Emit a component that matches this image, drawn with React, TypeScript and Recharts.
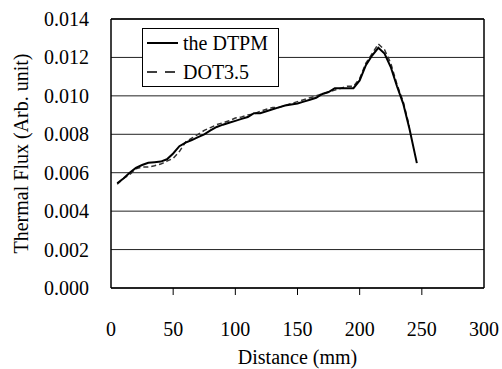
import React from 'react';
import { LineChart, Line, XAxis, YAxis, CartesianGrid, ReferenceLine } from 'recharts';

const xTicks = [0, 50, 100, 150, 200, 250, 300];
const yTicks = [0, 0.002, 0.004, 0.006, 0.008, 0.01, 0.012, 0.014];

const dtpmDistance = [5, 10, 15, 20, 25, 30, 35, 40, 45, 50, 55, 60, 65, 70, 75, 80, 85, 90, 95, 100, 105, 110, 115, 120, 125, 130, 135, 140, 145, 150, 155, 160, 165, 170, 175, 180, 185, 190, 195, 200, 205, 210, 215, 220, 225, 230, 235, 240, 246];
const dtpmFlux = [0.00545, 0.0057, 0.006, 0.00625, 0.0064, 0.00652, 0.00655, 0.00658, 0.0067, 0.007, 0.00738, 0.00757, 0.0077, 0.00785, 0.008, 0.0082, 0.00838, 0.0085, 0.0086, 0.0087, 0.0088, 0.0089, 0.0091, 0.0091, 0.0092, 0.0093, 0.0094, 0.0095, 0.00955, 0.0096, 0.0097, 0.0098, 0.0099, 0.0101, 0.0102, 0.0104, 0.0104, 0.0104, 0.0104, 0.0108, 0.0116, 0.0121, 0.0125, 0.0122, 0.0115, 0.0105, 0.0096, 0.0083, 0.0065];

const dotDistance = [5, 10, 15, 20, 25, 30, 35, 40, 45, 50, 55, 60, 65, 70, 75, 80, 85, 90, 95, 100, 105, 110, 115, 120, 125, 130, 135, 140, 145, 150, 155, 160, 165, 170, 175, 180, 185, 190, 195, 200, 205, 210, 215, 220, 225, 230, 235, 240];
const dotFlux = [0.0054, 0.0057, 0.0059, 0.0062, 0.0063, 0.0063, 0.00636, 0.00645, 0.0066, 0.00675, 0.0071, 0.0076, 0.0078, 0.008, 0.0082, 0.00835, 0.0085, 0.0086, 0.0087, 0.00885, 0.0089, 0.009, 0.00905, 0.0092, 0.0093, 0.0094, 0.0094, 0.0095, 0.0096, 0.0097, 0.0098, 0.0099, 0.01, 0.0101, 0.0102, 0.0103, 0.0104, 0.0105, 0.0105, 0.0109, 0.0117, 0.0122, 0.0127, 0.0124, 0.0117, 0.0106, 0.0097, 0.0084];

const dtpmData = dtpmDistance.map((d, i) => ({ d, v: dtpmFlux[i] }));
const dotData = dotDistance.map((d, i) => ({ d, v: dotFlux[i] }));

const FONT = 'Liberation Serif';

const XTick = (props: any) => {
  const { x, y, payload } = props;
  const inner = payload.value !== 0 && payload.value !== 300;
  return (
    <g>
      {inner && <line x1={x} x2={x} y1={y - 8} y2={y - 1} stroke="#000" strokeWidth={1} />}
      <text x={x} y={y + 40} textAnchor="middle" style={{ fontFamily: FONT, fontSize: 20 }} fill="#000">
        {payload.value}
      </text>
    </g>
  );
};

const YTick = (props: any) => {
  const { y, payload } = props;
  return (
    <text x={89} y={y + 7} textAnchor="end" style={{ fontFamily: FONT, fontSize: 20 }} fill="#000">
      {payload.value.toFixed(3)}
    </text>
  );
};

export default function App() {
  return (
    <div style={{ position: 'absolute', left: 0, top: 0, width: 502, height: 369, background: '#fff' }}>
      <LineChart width={502} height={369} margin={{ top: 19, right: 18, left: 0, bottom: 0 }}>
        <CartesianGrid horizontal vertical={false} stroke="#222" strokeWidth={1} />
        <XAxis
          type="number"
          dataKey="d"
          domain={[0, 300]}
          ticks={xTicks}
          tickLine={false}
          axisLine={{ stroke: '#000', strokeWidth: 1.5 }}
          height={81}
          tick={<XTick />}
          interval={0}
          allowDataOverflow
          label={{ value: 'Distance (mm)', position: 'insideBottom', offset: 5, style: { fontFamily: FONT, fontSize: 20, fill: '#000' } }}
        />
        <YAxis
          type="number"
          dataKey="v"
          domain={[0, 0.014]}
          ticks={yTicks}
          tickLine={false}
          axisLine={{ stroke: '#000', strokeWidth: 1.5 }}
          width={111}
          tick={<YTick />}
          interval={0}
          label={{ value: 'Thermal Flux (Arb. unit)', angle: -90, position: 'insideLeft', offset: 21, style: { textAnchor: 'middle', fontFamily: FONT, fontSize: 20, fill: '#000' } }}
        />
        <ReferenceLine x={300} stroke="#000" strokeWidth={1.5} />
        <ReferenceLine y={0.014} stroke="#000" strokeWidth={1.5} />
        <Line data={dotData} dataKey="v" stroke="#333" strokeWidth={1.5} strokeDasharray="5 3" dot={false} isAnimationActive={false} name="DOT3.5" />
        <Line data={dtpmData} dataKey="v" stroke="#000" strokeWidth={2} dot={false} isAnimationActive={false} name="the DTPM" />
      </LineChart>
      <div
        style={{
          position: 'absolute',
          left: 142,
          top: 28,
          width: 137,
          height: 59,
          boxSizing: 'border-box',
          border: '1px solid #000',
          background: '#fff',
        }}
      >
        <svg width={137} height={59} style={{ position: 'absolute', left: -1, top: -1 }}>
          <line x1={5} x2={36} y1={15} y2={15} stroke="#000" strokeWidth={2} />
          <line x1={5} x2={36} y1={44} y2={44} stroke="#000" strokeWidth={1.5} strokeDasharray="10 8" />
          <text x={41} y={22} style={{ fontFamily: FONT, fontSize: 20 }} fill="#000">the DTPM</text>
          <text x={41} y={51} style={{ fontFamily: FONT, fontSize: 20 }} fill="#000">DOT3.5</text>
        </svg>
      </div>
    </div>
  );
}
